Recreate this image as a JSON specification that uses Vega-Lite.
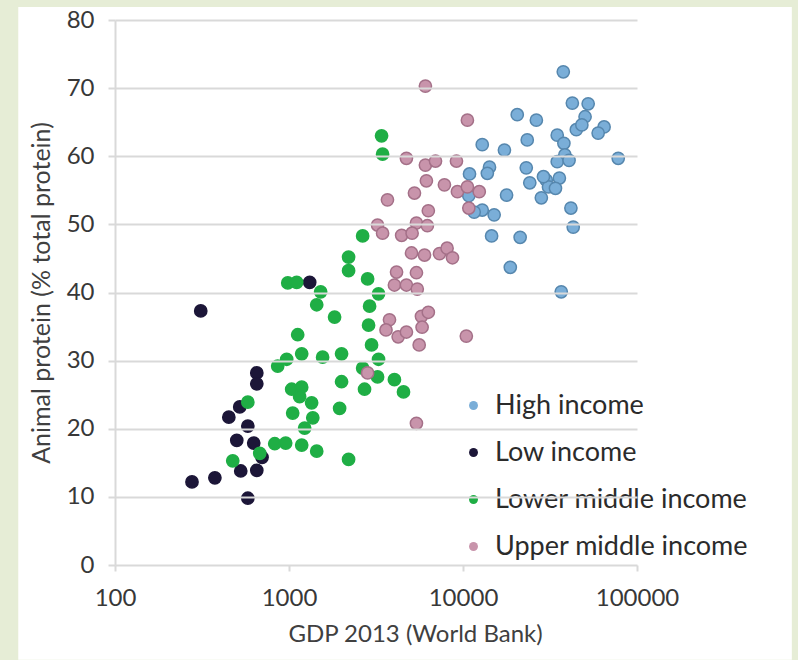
{
  "$schema": "https://vega.github.io/schema/vega-lite/v6.json",
  "width": 522,
  "height": 545,
  "autosize": {"type": "none"},
  "padding": {"left": 115, "top": 20, "right": 161, "bottom": 95},
  "background": "#e6edd6",
  "config": {"view": {"stroke": null}, "font": "Lato"},
  "datasets": {
    "countries": [
      {"gdp": 37700, "protein": 72.4, "income": "High income"},
      {"gdp": 42500, "protein": 67.8, "income": "High income"},
      {"gdp": 52400, "protein": 67.7, "income": "High income"},
      {"gdp": 50300, "protein": 65.8, "income": "High income"},
      {"gdp": 20500, "protein": 66.1, "income": "High income"},
      {"gdp": 26400, "protein": 65.3, "income": "High income"},
      {"gdp": 64700, "protein": 64.3, "income": "High income"},
      {"gdp": 59800, "protein": 63.4, "income": "High income"},
      {"gdp": 44800, "protein": 63.9, "income": "High income"},
      {"gdp": 48200, "protein": 64.6, "income": "High income"},
      {"gdp": 34800, "protein": 63.1, "income": "High income"},
      {"gdp": 23400, "protein": 62.4, "income": "High income"},
      {"gdp": 12900, "protein": 61.7, "income": "High income"},
      {"gdp": 17300, "protein": 60.9, "income": "High income"},
      {"gdp": 38000, "protein": 61.9, "income": "High income"},
      {"gdp": 38500, "protein": 60.2, "income": "High income"},
      {"gdp": 34800, "protein": 59.2, "income": "High income"},
      {"gdp": 40700, "protein": 59.4, "income": "High income"},
      {"gdp": 78000, "protein": 59.7, "income": "High income"},
      {"gdp": 14200, "protein": 58.4, "income": "High income"},
      {"gdp": 13800, "protein": 57.5, "income": "High income"},
      {"gdp": 23100, "protein": 58.3, "income": "High income"},
      {"gdp": 24200, "protein": 56.1, "income": "High income"},
      {"gdp": 30100, "protein": 56.5, "income": "High income"},
      {"gdp": 35800, "protein": 56.8, "income": "High income"},
      {"gdp": 31000, "protein": 55.5, "income": "High income"},
      {"gdp": 34000, "protein": 55.3, "income": "High income"},
      {"gdp": 29000, "protein": 57.0, "income": "High income"},
      {"gdp": 28200, "protein": 53.9, "income": "High income"},
      {"gdp": 17800, "protein": 54.3, "income": "High income"},
      {"gdp": 10900, "protein": 57.4, "income": "High income"},
      {"gdp": 41700, "protein": 52.4, "income": "High income"},
      {"gdp": 43000, "protein": 49.6, "income": "High income"},
      {"gdp": 12900, "protein": 52.1, "income": "High income"},
      {"gdp": 15100, "protein": 51.4, "income": "High income"},
      {"gdp": 14600, "protein": 48.3, "income": "High income"},
      {"gdp": 21300, "protein": 48.1, "income": "High income"},
      {"gdp": 18700, "protein": 43.7, "income": "High income"},
      {"gdp": 36700, "protein": 40.1, "income": "High income"},
      {"gdp": 11600, "protein": 51.8, "income": "High income"},
      {"gdp": 10800, "protein": 54.2, "income": "High income"},
      {"gdp": 311, "protein": 37.3, "income": "Low income"},
      {"gdp": 653, "protein": 28.2, "income": "Low income"},
      {"gdp": 653, "protein": 26.6, "income": "Low income"},
      {"gdp": 521, "protein": 23.2, "income": "Low income"},
      {"gdp": 451, "protein": 21.7, "income": "Low income"},
      {"gdp": 580, "protein": 20.4, "income": "Low income"},
      {"gdp": 501, "protein": 18.3, "income": "Low income"},
      {"gdp": 627, "protein": 17.9, "income": "Low income"},
      {"gdp": 700, "protein": 15.8, "income": "Low income"},
      {"gdp": 528, "protein": 13.8, "income": "Low income"},
      {"gdp": 653, "protein": 13.9, "income": "Low income"},
      {"gdp": 277, "protein": 12.2, "income": "Low income"},
      {"gdp": 375, "protein": 12.8, "income": "Low income"},
      {"gdp": 580, "protein": 9.8, "income": "Low income"},
      {"gdp": 1315, "protein": 41.5, "income": "Low income"},
      {"gdp": 1443, "protein": 38.2, "income": "Lower middle income"},
      {"gdp": 1122, "protein": 33.8, "income": "Lower middle income"},
      {"gdp": 1183, "protein": 31.0, "income": "Lower middle income"},
      {"gdp": 1560, "protein": 30.5, "income": "Lower middle income"},
      {"gdp": 861, "protein": 29.2, "income": "Lower middle income"},
      {"gdp": 970, "protein": 30.2, "income": "Lower middle income"},
      {"gdp": 1036, "protein": 25.8, "income": "Lower middle income"},
      {"gdp": 1183, "protein": 26.1, "income": "Lower middle income"},
      {"gdp": 1151, "protein": 24.7, "income": "Lower middle income"},
      {"gdp": 1349, "protein": 23.8, "income": "Lower middle income"},
      {"gdp": 1050, "protein": 22.3, "income": "Lower middle income"},
      {"gdp": 1370, "protein": 21.6, "income": "Lower middle income"},
      {"gdp": 1230, "protein": 20.1, "income": "Lower middle income"},
      {"gdp": 580, "protein": 23.9, "income": "Lower middle income"},
      {"gdp": 828, "protein": 17.8, "income": "Lower middle income"},
      {"gdp": 957, "protein": 17.9, "income": "Lower middle income"},
      {"gdp": 1183, "protein": 17.6, "income": "Lower middle income"},
      {"gdp": 1443, "protein": 16.7, "income": "Lower middle income"},
      {"gdp": 475, "protein": 15.3, "income": "Lower middle income"},
      {"gdp": 679, "protein": 16.4, "income": "Lower middle income"},
      {"gdp": 3404, "protein": 63.0, "income": "Lower middle income"},
      {"gdp": 3450, "protein": 60.3, "income": "Lower middle income"},
      {"gdp": 2650, "protein": 48.3, "income": "Lower middle income"},
      {"gdp": 2200, "protein": 45.2, "income": "Lower middle income"},
      {"gdp": 2200, "protein": 43.2, "income": "Lower middle income"},
      {"gdp": 984, "protein": 41.4, "income": "Lower middle income"},
      {"gdp": 1107, "protein": 41.5, "income": "Lower middle income"},
      {"gdp": 1520, "protein": 40.1, "income": "Lower middle income"},
      {"gdp": 2830, "protein": 42.0, "income": "Lower middle income"},
      {"gdp": 3270, "protein": 39.8, "income": "Lower middle income"},
      {"gdp": 2905, "protein": 38.0, "income": "Lower middle income"},
      {"gdp": 1828, "protein": 36.4, "income": "Lower middle income"},
      {"gdp": 2866, "protein": 35.2, "income": "Lower middle income"},
      {"gdp": 2982, "protein": 32.3, "income": "Lower middle income"},
      {"gdp": 3270, "protein": 30.2, "income": "Lower middle income"},
      {"gdp": 2005, "protein": 31.0, "income": "Lower middle income"},
      {"gdp": 2650, "protein": 28.9, "income": "Lower middle income"},
      {"gdp": 3228, "protein": 27.6, "income": "Lower middle income"},
      {"gdp": 2717, "protein": 25.8, "income": "Lower middle income"},
      {"gdp": 4035, "protein": 27.2, "income": "Lower middle income"},
      {"gdp": 4550, "protein": 25.4, "income": "Lower middle income"},
      {"gdp": 2005, "protein": 26.9, "income": "Lower middle income"},
      {"gdp": 1954, "protein": 23.0, "income": "Lower middle income"},
      {"gdp": 2200, "protein": 15.5, "income": "Lower middle income"},
      {"gdp": 6080, "protein": 70.3, "income": "Upper middle income"},
      {"gdp": 10600, "protein": 65.3, "income": "Upper middle income"},
      {"gdp": 4730, "protein": 59.7, "income": "Upper middle income"},
      {"gdp": 6080, "protein": 58.7, "income": "Upper middle income"},
      {"gdp": 6950, "protein": 59.3, "income": "Upper middle income"},
      {"gdp": 9170, "protein": 59.3, "income": "Upper middle income"},
      {"gdp": 6160, "protein": 56.4, "income": "Upper middle income"},
      {"gdp": 7820, "protein": 55.8, "income": "Upper middle income"},
      {"gdp": 9290, "protein": 54.8, "income": "Upper middle income"},
      {"gdp": 5260, "protein": 54.6, "income": "Upper middle income"},
      {"gdp": 3680, "protein": 53.6, "income": "Upper middle income"},
      {"gdp": 6320, "protein": 52.0, "income": "Upper middle income"},
      {"gdp": 3228, "protein": 49.9, "income": "Upper middle income"},
      {"gdp": 3450, "protein": 48.7, "income": "Upper middle income"},
      {"gdp": 5400, "protein": 50.2, "income": "Upper middle income"},
      {"gdp": 6240, "protein": 49.8, "income": "Upper middle income"},
      {"gdp": 4440, "protein": 48.4, "income": "Upper middle income"},
      {"gdp": 5100, "protein": 48.7, "income": "Upper middle income"},
      {"gdp": 10600, "protein": 55.5, "income": "Upper middle income"},
      {"gdp": 10800, "protein": 52.4, "income": "Upper middle income"},
      {"gdp": 12400, "protein": 54.8, "income": "Upper middle income"},
      {"gdp": 5060, "protein": 45.8, "income": "Upper middle income"},
      {"gdp": 6010, "protein": 45.5, "income": "Upper middle income"},
      {"gdp": 7330, "protein": 45.7, "income": "Upper middle income"},
      {"gdp": 8100, "protein": 46.5, "income": "Upper middle income"},
      {"gdp": 8700, "protein": 45.1, "income": "Upper middle income"},
      {"gdp": 4150, "protein": 43.0, "income": "Upper middle income"},
      {"gdp": 5400, "protein": 42.9, "income": "Upper middle income"},
      {"gdp": 4035, "protein": 41.1, "income": "Upper middle income"},
      {"gdp": 4730, "protein": 41.1, "income": "Upper middle income"},
      {"gdp": 5460, "protein": 40.5, "income": "Upper middle income"},
      {"gdp": 3780, "protein": 36.0, "income": "Upper middle income"},
      {"gdp": 3610, "protein": 34.5, "income": "Upper middle income"},
      {"gdp": 4240, "protein": 33.5, "income": "Upper middle income"},
      {"gdp": 4730, "protein": 34.2, "income": "Upper middle income"},
      {"gdp": 5770, "protein": 36.5, "income": "Upper middle income"},
      {"gdp": 6320, "protein": 37.1, "income": "Upper middle income"},
      {"gdp": 5820, "protein": 34.9, "income": "Upper middle income"},
      {"gdp": 5600, "protein": 32.3, "income": "Upper middle income"},
      {"gdp": 10450, "protein": 33.6, "income": "Upper middle income"},
      {"gdp": 2830, "protein": 28.2, "income": "Upper middle income"},
      {"gdp": 5400, "protein": 20.8, "income": "Upper middle income"}
    ]
  },
  "layer": [
    {
      "description": "White chart panel inside the slide frame",
      "data": {"values": [{}]},
      "mark": {"type": "rect", "fill": "#ffffff"},
      "encoding": {
        "x": {"datum": 27.8, "type": "quantitative"},
        "x2": {"datum": 776000},
        "y": {"datum": 81.9, "type": "quantitative"},
        "y2": {"datum": -13.9}
      }
    },
    {
      "data": {"name": "countries"},
      "mark": {"type": "point", "filled": true, "size": 150, "strokeWidth": 1.5, "opacity": 1},
      "encoding": {
        "x": {
          "field": "gdp",
          "type": "quantitative",
          "scale": {"type": "log", "domain": [100, 100000], "nice": false},
          "axis": {
            "title": "GDP 2013 (World Bank)",
            "values": [100, 1000, 10000, 100000],
            "format": "d",
            "grid": false,
            "domain": false,
            "ticks": true,
            "tickSize": 6,
            "tickColor": "#d9d9d9",
            "tickWidth": 2,
            "labelFlush": false,
            "labelAlign": "center",
            "labelFontSize": 24,
            "labelColor": "#383838",
            "labelPadding": 15,
            "titleFontSize": 24,
            "titleFontWeight": "normal",
            "titleColor": "#404040",
            "titleX": 300,
            "titlePadding": 12,
            "zindex": 1
          }
        },
        "y": {
          "field": "protein",
          "type": "quantitative",
          "scale": {"domain": [0, 80], "nice": false},
          "axis": {
            "title": "Animal protein (% total protein)",
            "values": [0, 10, 20, 30, 40, 50, 60, 70, 80],
            "grid": true,
            "gridColor": "#d9d9d9",
            "gridWidth": 2,
            "domain": true,
            "domainColor": "#d9d9d9",
            "domainWidth": 2,
            "tickSize": 7,
            "tickColor": "#d9d9d9",
            "tickWidth": 2,
            "labelFontSize": 24,
            "labelColor": "#383838",
            "labelPadding": 14,
            "titleFontSize": 25,
            "titleFontWeight": "normal",
            "titleColor": "#404040",
            "titlePadding": 12,
            "zindex": 1
          }
        },
        "fill": {
          "field": "income",
          "type": "nominal",
          "scale": {
            "domain": ["High income", "Low income", "Lower middle income", "Upper middle income"],
            "range": ["#7aaed8", "#1c1638", "#1fae45", "#c894ab"]
          },
          "legend": {
            "title": null,
            "orient": "none",
            "legendX": 345,
            "legendY": 372,
            "direction": "vertical",
            "labelFontSize": 27,
            "labelColor": "#2b2b2b",
            "labelLimit": 400,
            "symbolType": "circle",
            "symbolSize": 80,
            "symbolStrokeWidth": 0,
            "rowPadding": 19,
            "labelOffset": 8
          }
        },
        "stroke": {
          "field": "income",
          "type": "nominal",
          "scale": {
            "domain": ["High income", "Low income", "Lower middle income", "Upper middle income"],
            "range": ["#5687ae", "#1c1638", "#1fae45", "#a47088"]
          },
          "legend": null
        }
      }
    }
  ]
}
